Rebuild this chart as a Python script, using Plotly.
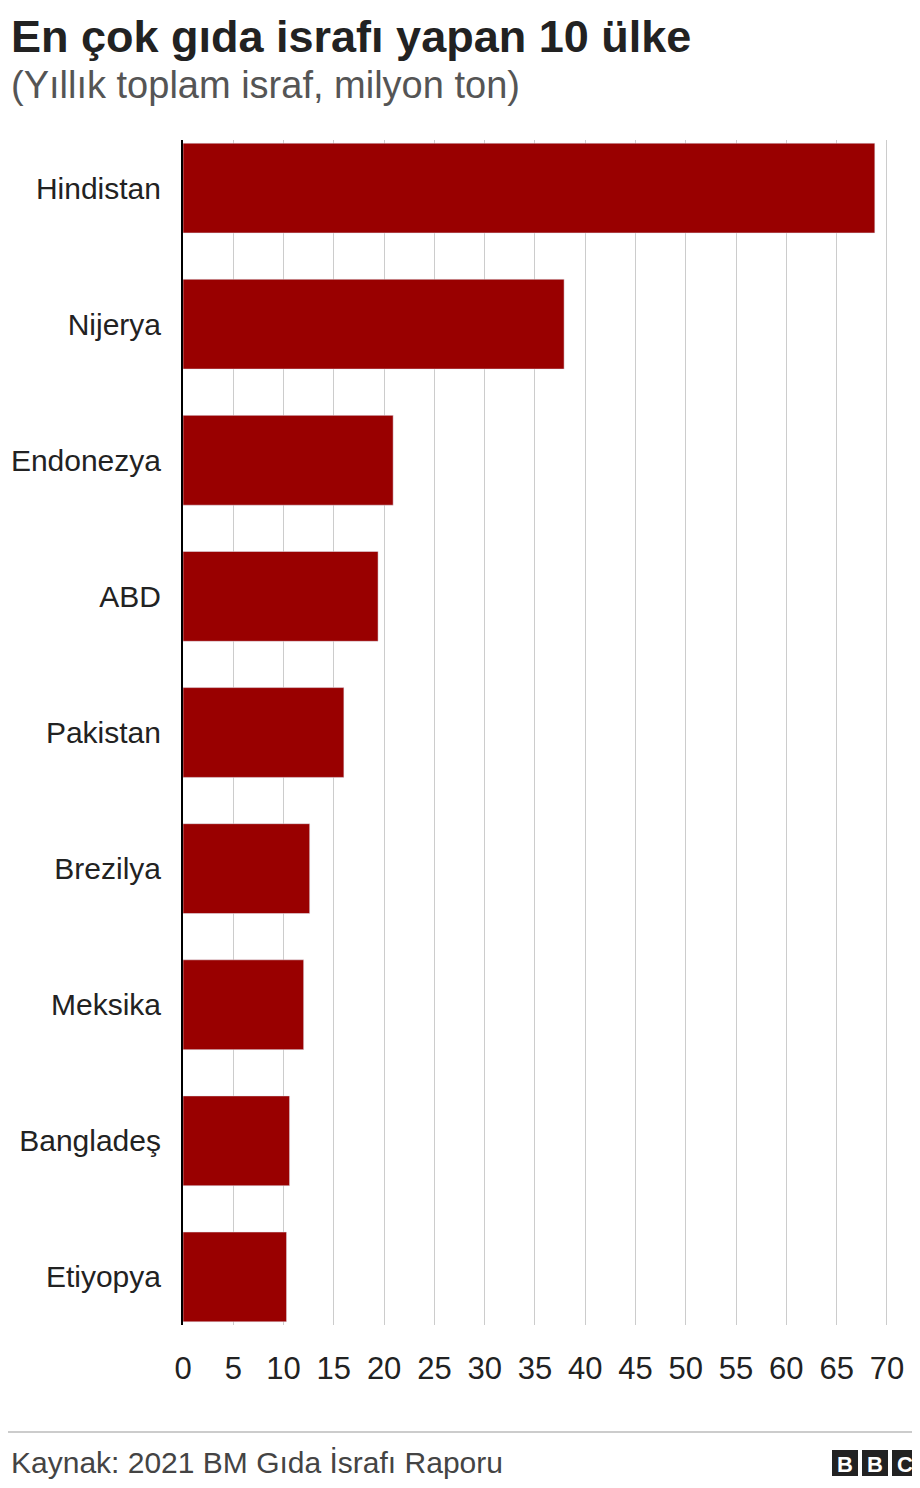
import plotly.graph_objects as go

countries = ["Hindistan", "Nijerya", "Endonezya", "ABD", "Pakistan",
             "Brezilya", "Meksika", "Bangladeş", "Etiyopya"]
waste = [68.8, 37.9, 20.9, 19.4, 16.0, 12.6, 12.0, 10.6, 10.3]
ticks = list(range(0, 75, 5))

FONT = "Liberation Sans, Arial"
# page body has an 8px margin; layout sized so the figure lands like the reference
L, T, W, H = 175, 132, 722, 1185


def xp(x):  # reference pixel -> paper
    return (x - 8 - L) / W


def yp(y):
    return (T + H - (y - 8)) / H


fig = go.Figure(go.Bar(
    x=waste, y=countries, orientation="h",
    marker_color="#990000", width=0.66,
))

fig.update_layout(
    width=912, height=1480,
    margin=dict(l=L, r=912 - L - W, t=T, b=1480 - T - H),
    plot_bgcolor="white", paper_bgcolor="white",
    font=dict(family=FONT, size=31, color="#222"),
    showlegend=False,
    xaxis=dict(range=[0, 71.8], tickvals=ticks, showgrid=True,
               gridcolor="#cccccc", gridwidth=1, zeroline=False,
               ticks="", ticklabelstandoff=22, automargin=False),
    yaxis=dict(range=[8.353, -0.353], showline=True, linecolor="black",
               linewidth=2, ticks="", ticklabelstandoff=14, automargin=False,
               tickfont=dict(size=30)),
)

texts = [
    ("<b>En çok gıda israfı yapan 10 ülke</b>", 36, 45, "#222"),
    ("(Yıllık toplam israf, milyon ton)", 85, 38, "#555"),
    ("Kaynak: 2021 BM Gıda İsrafı Raporu", 1462, 30, "#444"),
]
for txt, y, size, col in texts:
    fig.add_annotation(text=txt, x=xp(9), y=yp(y), xref="paper", yref="paper",
                       xanchor="left", yanchor="middle", showarrow=False,
                       font=dict(family=FONT, size=size, color=col))

fig.add_shape(type="line", xref="paper", yref="paper",
              x0=xp(8), x1=xp(920), y0=yp(1432), y1=yp(1432),
              line=dict(color="#999", width=1))

# BBC blocks
for i, ch in enumerate("BBC"):
    x0 = 832 + i * 30
    fig.add_shape(type="rect", xref="paper", yref="paper",
                  x0=xp(x0), x1=xp(x0 + 26), y0=yp(1476), y1=yp(1450),
                  fillcolor="#222", line_width=0)
    fig.add_annotation(text="<b>" + ch + "</b>", xref="paper", yref="paper",
                       x=xp(x0 + 13), y=yp(1464), showarrow=False,
                       xanchor="center", yanchor="middle",
                       font=dict(color="white", size=22, family=FONT))

fig.write_html("out.html")
